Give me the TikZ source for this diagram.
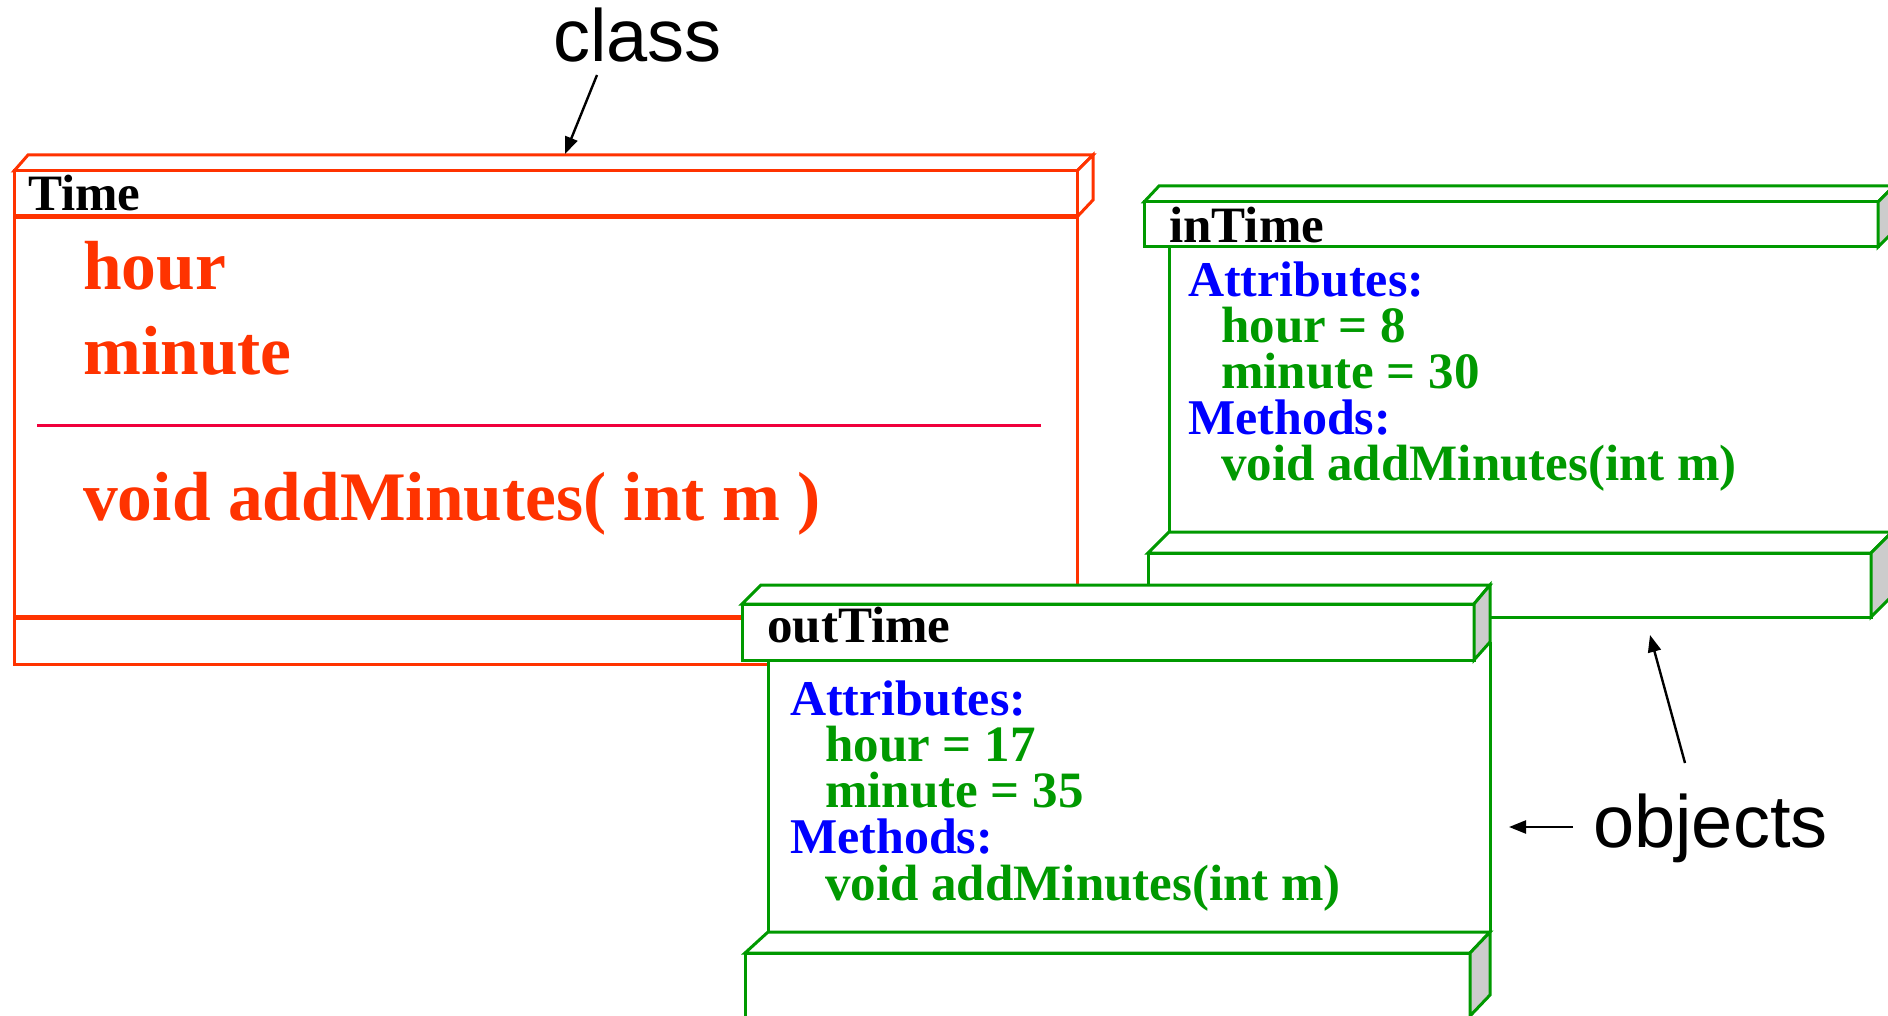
\documentclass[tikz,border=0pt]{standalone}
\usepackage{fontspec}
\setmainfont{Liberation Serif}
\setsansfont{Liberation Sans}
\usetikzlibrary{arrows.meta}

\definecolor{clsred}{HTML}{FF3300}
\definecolor{sepred}{HTML}{F0003C}
\definecolor{objgreen}{HTML}{009900}
\definecolor{kwblue}{HTML}{0000FF}
\definecolor{sideface}{HTML}{CCCCCC}

\begin{document}
\begin{tikzpicture}[x=1pt,y=-1pt,
  clsline/.style={draw=clsred,line width=3pt,fill=white},
  clsthick/.style={draw=clsred,line width=5pt},
  objline/.style={draw=objgreen,line width=3pt,fill=white},
  objside/.style={draw=objgreen,line width=3pt,fill=sideface},
  hdrtxt/.style={anchor=base west,inner sep=0pt,text=black,font=\bfseries\fontsize{51}{60}\selectfont},
  clstxt/.style={anchor=base west,inner sep=0pt,text=clsred,font=\bfseries\fontsize{69.5}{80}\selectfont},
  kwtxt/.style={anchor=base west,inner sep=0pt,text=kwblue,font=\bfseries\fontsize{50}{60}\selectfont},
  valtxt/.style={anchor=base west,inner sep=0pt,text=objgreen,font=\bfseries\fontsize{51}{60}\selectfont},
  lbltxt/.style={anchor=base west,inner sep=0pt,text=black,font=\sffamily\fontsize{74}{88}\selectfont},
  annot/.style={draw=black,line width=2.4pt,-{Triangle[length=17pt,width=13pt]}}
]
\useasboundingbox (0,0) rectangle (1888,1016);
\clip (0,0) rectangle (1888,1016);

% ---- class box: Time ----
\draw[clsline] (14,171) -- (28,155) -- (1093,155) -- (1077,171) -- cycle;
\draw[clsline] (1077,171) -- (1093,155) -- (1093,200) -- (1077,217) -- cycle;
\draw[clsline] (14,171) rectangle (1077,664);
\draw[clsthick] (14,217) -- (1077,217);
\draw[clsthick] (14,617) -- (1077,617);
\draw[sepred,line width=2.5pt] (37,425.7) -- (1041,425.7);

\node[hdrtxt] (timehdr) at (28,210.7) {Time};
\node[clstxt] (timehour) at (83,290) {hour};
\node[clstxt] (timemin) at (83,374.3) {minute};
\node[clstxt] (timeop) at (83,520) {void addMinutes( int m )};

% ---- object box: inTime ----
\draw[objline] (1144,202) -- (1159,186) -- (1894,186) -- (1878,202) -- cycle;
\draw[objline] (1144,202) rectangle (1878,247);
\draw[objside] (1878,202) -- (1894,186) -- (1894,231) -- (1878,247) -- cycle;
\draw[objline] (1169,247) -- (1169,532);
\draw[objline] (1148,553) -- (1169,532) -- (1892,532) -- (1871,553) -- cycle;
\draw[objline] (1148,553) rectangle (1871,617);
\draw[objside] (1871,553) -- (1892,532) -- (1892,596) -- (1871,617) -- cycle;

\node[hdrtxt] (inhdr) at (1169,242.7) {inTime};
\node[kwtxt] (inattr) at (1188,296.7) {Attributes:};
\node[valtxt] (inhour) at (1221,342.7) {hour = 8};
\node[valtxt] (inmin) at (1221,388.3) {minute = 30};
\node[kwtxt] (inmeth) at (1188,434.3) {Methods:};
\node[valtxt] (inop) at (1221,480) {void addMinutes(int m)};

% ---- object box: outTime ----
\fill[white] (768,660) rectangle (1490,932);
\draw[objline] (742,604) -- (761,585) -- (1490,585) -- (1474,604) -- cycle;
\draw[objline] (742,604) rectangle (1474,660);
\draw[objside] (1474,604) -- (1490,585) -- (1490,642) -- (1474,660) -- cycle;
\draw[objgreen,line width=3pt] (768,660) -- (768,932);
\draw[objgreen,line width=3pt] (1490,642) -- (1490,932);
\draw[objline] (745,953) -- (768,932) -- (1490,932) -- (1470,953) -- cycle;
\draw[objline] (745,953) rectangle (1470,1030);
\draw[objside] (1470,953) -- (1490,932) -- (1490,995) -- (1470,1016) -- cycle;

\node[hdrtxt] (outhdr) at (767,642.7) {outTime};
\node[kwtxt] (outattr) at (790,715) {Attributes:};
\node[valtxt] (outhour) at (825,761.7) {hour = 17};
\node[valtxt] (outmin) at (825,807.3) {minute = 35};
\node[kwtxt] (outmeth) at (790,853.3) {Methods:};
\node[valtxt] (outop) at (825,900) {void addMinutes(int m)};

% ---- annotations ----
\node[lbltxt] (classlbl) at (553,62) {class};
\node[lbltxt] (objlbl) at (1593,847) {objects};

\coordinate (classfoot) at (597,75);
\coordinate (classtip) at (565,154);
\coordinate (objfoot) at (1685,763);
\coordinate (objtipup) at (1650,635);
\coordinate (objfootl) at (1573,827);
\coordinate (objtipl) at (1509,827);

\draw[annot] (classfoot) -- (classtip);
\draw[annot] (objfoot) -- (objtipup);
\draw[annot] (objfootl) -- (objtipl);
\end{tikzpicture}
\end{document}
